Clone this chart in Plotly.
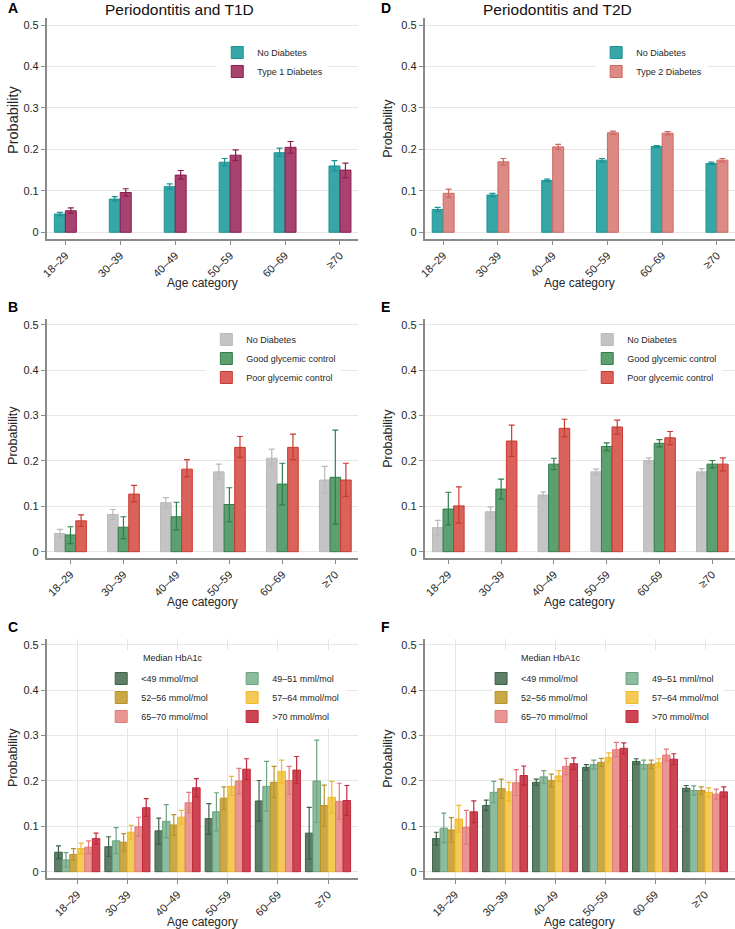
import plotly.graph_objects as go

ages = ["18–29", "30–39", "40–49", "50–59", "60–69", "≥70"]
yticks = [0, 0.1, 0.2, 0.3, 0.4, 0.5]
yticktext = ["0", "0.1", "0.2", "0.3", "0.4", "0.5"]

# ---------------- Panel A: Periodontitis and T1D ----------------
a_nodiab = [0.044, 0.080, 0.110, 0.169, 0.192, 0.160]
a_nodiab_lo = [0.040, 0.075, 0.104, 0.161, 0.183, 0.148]
a_nodiab_hi = [0.048, 0.086, 0.117, 0.178, 0.203, 0.173]
a_t1d = [0.052, 0.096, 0.138, 0.186, 0.205, 0.150]
a_t1d_lo = [0.046, 0.087, 0.128, 0.173, 0.191, 0.132]
a_t1d_hi = [0.059, 0.105, 0.149, 0.199, 0.219, 0.167]

# ---------------- Panel D: Periodontitis and T2D ----------------
d_nodiab = [0.055, 0.090, 0.125, 0.174, 0.207, 0.166]
d_nodiab_lo = [0.050, 0.086, 0.122, 0.170, 0.204, 0.163]
d_nodiab_hi = [0.060, 0.094, 0.128, 0.178, 0.209, 0.169]
d_t2d = [0.094, 0.170, 0.206, 0.240, 0.239, 0.174]
d_t2d_lo = [0.084, 0.162, 0.200, 0.236, 0.235, 0.170]
d_t2d_hi = [0.104, 0.178, 0.212, 0.244, 0.243, 0.178]

# ---------------- Panel B: T1D glycemic control ----------------
b_nodiab = [0.040, 0.082, 0.108, 0.176, 0.206, 0.158]
b_nodiab_lo = [0.032, 0.071, 0.097, 0.160, 0.186, 0.129]
b_nodiab_hi = [0.049, 0.093, 0.119, 0.193, 0.226, 0.188]
b_good = [0.037, 0.054, 0.077, 0.104, 0.149, 0.164]
b_good_lo = [0.018, 0.029, 0.048, 0.066, 0.103, 0.061]
b_good_hi = [0.055, 0.077, 0.109, 0.141, 0.195, 0.268]
b_poor = [0.068, 0.127, 0.182, 0.230, 0.230, 0.158]
b_poor_lo = [0.056, 0.110, 0.165, 0.208, 0.203, 0.122]
b_poor_hi = [0.081, 0.146, 0.203, 0.254, 0.259, 0.195]

# ---------------- Panel E: T2D glycemic control ----------------
e_nodiab = [0.053, 0.088, 0.125, 0.176, 0.201, 0.176]
e_nodiab_lo = [0.037, 0.076, 0.118, 0.170, 0.195, 0.169]
e_nodiab_hi = [0.069, 0.099, 0.132, 0.182, 0.207, 0.183]
e_good = [0.094, 0.138, 0.193, 0.232, 0.239, 0.193]
e_good_lo = [0.059, 0.116, 0.181, 0.223, 0.231, 0.185]
e_good_hi = [0.131, 0.160, 0.206, 0.240, 0.247, 0.201]
e_poor = [0.101, 0.244, 0.272, 0.275, 0.251, 0.193]
e_poor_lo = [0.063, 0.210, 0.253, 0.259, 0.236, 0.178]
e_poor_hi = [0.143, 0.279, 0.292, 0.290, 0.265, 0.207]

# ---------------- Panel C: T1D median HbA1c ----------------
hba1c_names = ["<49 mmol/mol", "49–51 mml/mol", "52–56 mmol/mol",
               "57–64 mmol/mol", "65–70 mmol/mol", ">70 mmol/mol"]
c_vals = [
    [0.043, 0.055, 0.090, 0.117, 0.156, 0.085],
    [0.026, 0.068, 0.111, 0.132, 0.188, 0.200],
    [0.038, 0.065, 0.103, 0.162, 0.197, 0.146],
    [0.051, 0.087, 0.120, 0.188, 0.221, 0.164],
    [0.054, 0.099, 0.152, 0.200, 0.201, 0.155],
    [0.073, 0.141, 0.185, 0.226, 0.224, 0.157],
]
c_lo = [
    [0.029, 0.034, 0.061, 0.083, 0.112, 0.028],
    [0.010, 0.040, 0.075, 0.090, 0.134, 0.109],
    [0.025, 0.046, 0.080, 0.137, 0.163, 0.100],
    [0.040, 0.072, 0.105, 0.168, 0.196, 0.130],
    [0.040, 0.078, 0.130, 0.172, 0.171, 0.116],
    [0.061, 0.122, 0.165, 0.203, 0.195, 0.124],
]
c_hi = [
    [0.057, 0.077, 0.118, 0.150, 0.201, 0.142],
    [0.042, 0.097, 0.148, 0.174, 0.243, 0.290],
    [0.051, 0.084, 0.126, 0.187, 0.232, 0.191],
    [0.063, 0.102, 0.135, 0.210, 0.246, 0.199],
    [0.068, 0.120, 0.175, 0.228, 0.232, 0.195],
    [0.085, 0.161, 0.205, 0.249, 0.254, 0.190],
]

# ---------------- Panel F: T2D median HbA1c ----------------
f_vals = [
    [0.073, 0.146, 0.197, 0.230, 0.243, 0.184],
    [0.096, 0.175, 0.209, 0.236, 0.236, 0.179],
    [0.092, 0.183, 0.201, 0.241, 0.237, 0.179],
    [0.116, 0.176, 0.211, 0.252, 0.240, 0.175],
    [0.098, 0.196, 0.232, 0.269, 0.257, 0.171],
    [0.132, 0.212, 0.238, 0.272, 0.248, 0.176],
]
f_lo = [
    [0.059, 0.135, 0.190, 0.224, 0.237, 0.177],
    [0.064, 0.152, 0.195, 0.226, 0.226, 0.169],
    [0.065, 0.162, 0.187, 0.232, 0.228, 0.171],
    [0.087, 0.156, 0.199, 0.242, 0.231, 0.165],
    [0.061, 0.168, 0.214, 0.253, 0.244, 0.160],
    [0.108, 0.191, 0.225, 0.260, 0.236, 0.165],
]
f_hi = [
    [0.087, 0.158, 0.204, 0.236, 0.249, 0.190],
    [0.129, 0.199, 0.223, 0.246, 0.246, 0.189],
    [0.119, 0.204, 0.215, 0.250, 0.246, 0.187],
    [0.146, 0.197, 0.223, 0.262, 0.249, 0.185],
    [0.135, 0.225, 0.250, 0.285, 0.270, 0.182],
    [0.156, 0.233, 0.251, 0.284, 0.260, 0.187],
]

# ---------------- styles ----------------
TEAL = ("#36a6a6", "#1c9494")
T1 = ("#a8436f", "#8c1d50")
T2 = ("#dc8a85", "#cf6862")
GRAY = ("#c4c4c4", "#b9b9b9")
GOOD = ("#5d9f70", "#2e7f49")
POOR = ("#d9625a", "#c93a32")
HB_COLORS = [("#5f7e68", "#3e6049"), ("#8dbb9d", "#6ba47f"), ("#caa845", "#b8932b"),
             ("#f3ca56", "#f0b92b"), ("#e99593", "#e07a78"), ("#cd4553", "#c0283b")]

FONT = "Liberation Sans, Arial, sans-serif"
TXT = "#262626"
W, H = 735, 929

fig = go.Figure()


def add_bar(ax, name, vals, lo, hi, colors, offset, width, legend, cap=3):
    fill, line = colors
    fig.add_trace(go.Bar(
        x=ages, y=vals, name=name,
        xaxis="x" + ax, yaxis="y" + ax,
        offset=offset, width=width,
        marker=dict(color=fill, line=dict(color=line, width=1)),
        error_y=dict(type="data", symmetric=False,
                     array=[h - v for h, v in zip(hi, vals)],
                     arrayminus=[v - l for v, l in zip(vals, lo)],
                     color=line, thickness=1.2, width=cap),
        legend=legend, showlegend=True,
    ))


# A
add_bar("", "No Diabetes", a_nodiab, a_nodiab_lo, a_nodiab_hi, TEAL, -0.2, 0.2, "legend")
add_bar("", "Type 1 Diabetes", a_t1d, a_t1d_lo, a_t1d_hi, T1, 0.0, 0.2, "legend")
# B
add_bar("2", "No Diabetes", b_nodiab, b_nodiab_lo, b_nodiab_hi, GRAY, -0.3, 0.2, "legend2")
add_bar("2", "Good glycemic control", b_good, b_good_lo, b_good_hi, GOOD, -0.1, 0.2, "legend2")
add_bar("2", "Poor glycemic control", b_poor, b_poor_lo, b_poor_hi, POOR, 0.1, 0.2, "legend2")
# C
for k in range(6):
    add_bar("3", hba1c_names[k], c_vals[k], c_lo[k], c_hi[k], HB_COLORS[k],
            -0.45 + 0.15 * k, 0.15, "legend3" if k % 2 == 0 else "legend4", cap=2.5)
# D
add_bar("4", "No Diabetes", d_nodiab, d_nodiab_lo, d_nodiab_hi, TEAL, -0.2, 0.2, "legend5")
add_bar("4", "Type 2 Diabetes", d_t2d, d_t2d_lo, d_t2d_hi, T2, 0.0, 0.2, "legend5")
# E
add_bar("5", "No Diabetes", e_nodiab, e_nodiab_lo, e_nodiab_hi, GRAY, -0.3, 0.2, "legend6")
add_bar("5", "Good glycemic control", e_good, e_good_lo, e_good_hi, GOOD, -0.1, 0.2, "legend6")
add_bar("5", "Poor glycemic control", e_poor, e_poor_lo, e_poor_hi, POOR, 0.1, 0.2, "legend6")
# F
for k in range(6):
    add_bar("6", hba1c_names[k], f_vals[k], f_lo[k], f_hi[k], HB_COLORS[k],
            -0.45 + 0.15 * k, 0.15, "legend7" if k % 2 == 0 else "legend8", cap=2.5)


def px_x(p):
    return p / W


def px_y(p):
    return 1 - p / H


left_dom = [px_x(41), px_x(355)]
right_dom = [px_x(422), 1.0]
rows = {1: (18, 239), 2: (319, 558), 3: (639, 878)}
yr = {1: [-0.0162, 0.5169], 2: [-0.0139, 0.513], 3: [-0.0139, 0.513]}
xr = {1: [-0.34, 5.33], 2: [-0.45, 5.43], 3: [-0.61, 5.6]}

axis_line = "#8a8a8a"
tickfont = dict(family=FONT, size=11, color=TXT)

layout = dict(
    width=W, height=H,
    margin=dict(l=0, r=0, t=0, b=0),
    paper_bgcolor="white", plot_bgcolor="white",
    barmode="overlay",
    font=dict(family=FONT, color=TXT),
    showlegend=True,
)

panels = [("", left_dom, 1), ("2", left_dom, 2), ("3", left_dom, 3),
          ("4", right_dom, 1), ("5", right_dom, 2), ("6", right_dom, 3)]
for ax, xdom, row in panels:
    top, bot = rows[row]
    xa = dict(domain=xdom, anchor="y" + ax, type="category",
              categoryorder="array", categoryarray=ages,
              range=xr[row], showline=True, linecolor=axis_line, linewidth=1.5,
              ticks="outside", ticklen=4, tickcolor=axis_line, tickwidth=1,
              tickangle=-45, tickfont=tickfont,
              showgrid=(row == 3), gridcolor="#e6e6e6", gridwidth=1, zeroline=False,
              fixedrange=True)
    ya = dict(domain=[px_y(bot), px_y(top)], anchor="x" + ax,
              range=yr[row], showline=True, linecolor=axis_line, linewidth=1.5,
              ticks="outside", ticklen=4, tickcolor=axis_line, tickwidth=1,
              tickvals=yticks, ticktext=yticktext, tickfont=tickfont,
              showgrid=True, gridcolor="#e6e6e6", gridwidth=1, zeroline=False,
              fixedrange=True)
    layout["xaxis" + ax] = xa
    layout["yaxis" + ax] = ya

leg_font = dict(family=FONT, size=9, color=TXT)


def leg(xp, yp, bg="white"):
    return dict(x=px_x(xp), y=px_y(yp), xanchor="left", yanchor="top",
                bgcolor=bg, borderwidth=0, font=leg_font,
                orientation="v", traceorder="normal")


layout["legend"] = leg(213, 38)
layout["legend2"] = leg(202, 325)
layout["legend3"] = leg(96, 664, "rgba(0,0,0,0)")
layout["legend4"] = leg(228, 664, "rgba(0,0,0,0)")
layout["legend5"] = leg(595, 38)
layout["legend6"] = leg(586, 325)
layout["legend7"] = leg(479, 664, "rgba(0,0,0,0)")
layout["legend8"] = leg(611, 664, "rgba(0,0,0,0)")

fig.update_layout(**layout)

# white boxes behind the HbA1c legends (cover gridlines; no data lies there)
for x0, x1 in [(110, 343), (490, 723)]:
    fig.add_shape(type="rect", xref="paper", yref="paper",
                  x0=px_x(x0), x1=px_x(x1), y0=px_y(728), y1=px_y(650),
                  fillcolor="white", line=dict(width=0), layer="above")

ann = []
# titles
for txt, xp in [("Periodontitis and T1D", 175), ("Periodontitis and T2D", 556)]:
    ann.append(dict(text=txt, x=px_x(xp), y=px_y(9), xref="paper", yref="paper",
                    xanchor="center", yanchor="middle", showarrow=False,
                    font=dict(family=FONT, size=15.5, color="#111")))
# panel letters
for letter, xp, yp in [("A", 0, 8), ("B", 0, 307), ("C", 0, 627),
                       ("D", 376, 8), ("E", 376, 307), ("F", 376, 627)]:
    ann.append(dict(text="<b>" + letter + "</b>", x=px_x(xp), y=px_y(yp), xref="paper", yref="paper",
                    xanchor="left", yanchor="middle", showarrow=False,
                    font=dict(family=FONT, size=14, color="#000")))
# y titles
for xp, yp, fs in [(7, 120, 14.5), (7, 435, 12.5), (7, 757, 12.5),
                   (385, 128, 12.5), (385, 438, 12.5), (385, 758, 12.5)]:
    ann.append(dict(text="Probability", x=px_x(xp), y=px_y(yp), xref="paper", yref="paper",
                    xanchor="center", yanchor="middle", textangle=-90, showarrow=False,
                    font=dict(family=FONT, size=fs, color=TXT)))
# x titles
for xp, yp in [(198, 283), (578, 283), (198, 602), (578, 602), (198, 922), (578, 922)]:
    ann.append(dict(text="Age category", x=px_x(xp), y=px_y(yp), xref="paper", yref="paper",
                    xanchor="center", yanchor="middle", showarrow=False,
                    font=dict(family=FONT, size=12, color=TXT)))
# HbA1c legend titles
for xp in [136, 517]:
    ann.append(dict(text="Median HbA1c", x=px_x(xp), y=px_y(658), xref="paper", yref="paper",
                    xanchor="left", yanchor="middle", showarrow=False,
                    font=dict(family=FONT, size=9, color=TXT)))
fig.update_layout(annotations=ann)

fig.write_html("out.html", config={"displayModeBar": False},
               post_script="document.body.style.margin='0px';")
